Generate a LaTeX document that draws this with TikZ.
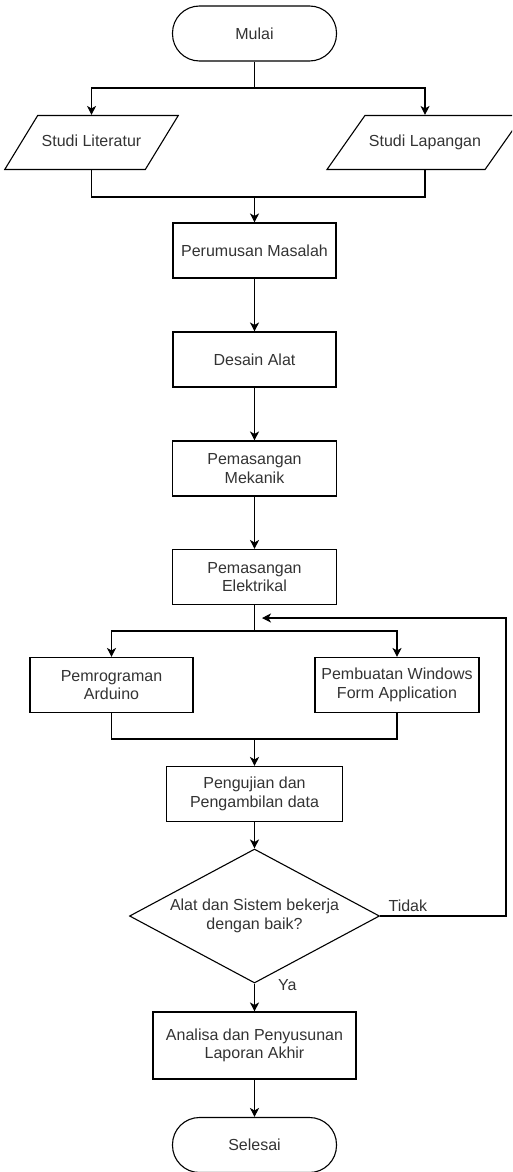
\documentclass[tikz,border=0pt]{standalone}
\usepackage{fontspec}
\setmainfont{Liberation Sans}
\usetikzlibrary{shapes.geometric, arrows.meta, positioning, calc}
\definecolor{flowtext}{HTML}{333333}

\begin{document}
\begin{tikzpicture}[
  x=1pt, y=1pt,
  every node/.style={font=\fontsize{16}{18.6}\selectfont, text=flowtext, align=center},
  termbox/.style={
    rectangle, rounded corners=27pt, draw=black, line width=1.1pt,
    minimum width=164pt, minimum height=55pt
  },
  procbox/.style={
    rectangle, draw=black, line width=1.1pt,
    minimum width=#1, minimum height=55pt, inner sep=2pt
  },
  iobox/.style 2 args={
    trapezium, trapezium left angle=#1, trapezium right angle=180-#1,
    trapezium stretches body, draw=black, line width=1.1pt,
    text height=11.5pt, text depth=3.5pt, inner ysep=19.5pt, inner xsep=4pt,
    minimum width=#2
  },
  decbox/.style={
    diamond, aspect=1.87, draw=black, line width=1.1pt,
    minimum width=250pt, minimum height=134pt, inner sep=0pt
  },
  line/.style={line width=1.1pt, black},
  arr/.style={-{Stealth[length=9pt, width=9pt, inset=2.5pt]}, line width=1.1pt, black}
]
  \path[use as bounding box, clip] (0,0) rectangle (512,-1172);

  \node[termbox] (mulai) at (254.5,-33.5) {Mulai};
  \node[iobox={58.6}{163pt}] (studilit) at (91.5,-142.5) {Studi Literatur};
  \node[iobox={54.9}{192pt}] (studilap) at (425,-142.5) {Studi Lapangan};
  \node[procbox=163pt] (rumusan) at (254.5,-250.5) {Perumusan Masalah};
  \node[procbox=163pt] (desain) at (254.5,-359.5) {Desain Alat};
  \node[procbox=164pt] (mekanik) at (254.5,-468.5) {Pemasangan\\Mekanik};
  \node[procbox=164pt] (elektrik) at (254.5,-577) {Pemasangan\\Elektrikal};
  \node[procbox=163pt] (arduino) at (111.5,-685) {Pemrograman\\Arduino};
  \node[procbox=164pt] (winform) at (397,-685) {Pembuatan Windows\\Form Application};
  \node[procbox=176pt] (uji) at (254.5,-794) {Pengujian dan\\Pengambilan data};
  \node[decbox] (cek) at (254.5,-916) {Alat dan Sistem bekerja\\dengan baik?};
  \node[procbox=203pt, minimum height=67pt] (analisa) at (254.5,-1045.5) {Analisa dan Penyusunan\\Laporan Akhir};
  \node[termbox] (selesai) at (254.5,-1145) {Selesai};

  % split and merge points
  \coordinate (split1) at (254.5,-88);
  \coordinate (merge1) at (254.5,-197);
  \coordinate (split2) at (254.5,-631);
  \coordinate (merge2) at (254.5,-739);
  \coordinate (loop) at (506,-618);
  \coordinate (back) at (262,-618);

  \draw[line] (mulai) -- (split1);
  \draw[arr] (split1) -| (studilit.north);
  \draw[arr] (split1) -| (studilap.north);
  \draw[line] (studilit.south) |- (merge1);
  \draw[line] (studilap.south) |- (merge1);
  \draw[arr] (merge1) -- (rumusan);
  \draw[arr] (rumusan) -- (desain);
  \draw[arr] (desain) -- (mekanik);
  \draw[arr] (mekanik) -- (elektrik);

  \draw[line] (elektrik) -- (split2);
  \draw[arr] (split2) -| (arduino.north);
  \draw[arr] (split2) -| (winform.north);
  \draw[line] (arduino.south) |- (merge2);
  \draw[line] (winform.south) |- (merge2);
  \draw[arr] (merge2) -- (uji);
  \draw[arr] (uji) -- (cek);

  % Feedback loop
  \draw[arr] (cek.east)
    node[anchor=south west, xshift=4pt, inner sep=4pt] {Tidak}
    -| (loop) -- (back);

  \draw[arr] (cek.south)
    node[anchor=north west, xshift=20pt, yshift=8pt, inner sep=3pt] {Ya}
    -- (analisa);
  \draw[arr] (analisa) -- (selesai);
\end{tikzpicture}
\end{document}
